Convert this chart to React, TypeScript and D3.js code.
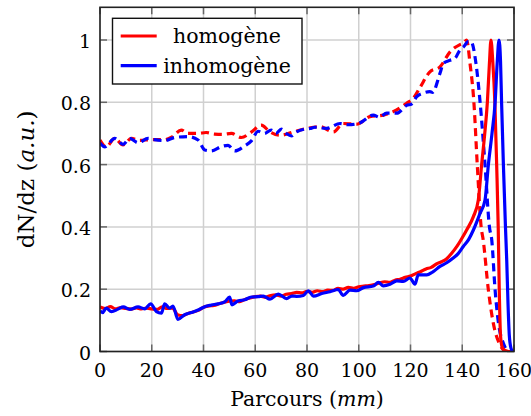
import React from "react";
import * as d3 from "d3";

// ---- data ----
const xTicks = [0, 20, 40, 60, 80, 100, 120, 140, 160];
const yTicks = [0, 0.2, 0.4, 0.6, 0.8, 1];
const yTickLabels = ["0", "0.2", "0.4", "0.6", "0.8", "1"];
const legendLabels = ["homogène", "inhomogène"];

// homogène, solid
const homSolidX = [0, 2, 4, 6, 8, 10, 12, 14, 16, 18, 20, 22, 24, 26, 28, 30, 32, 34, 36, 38, 40, 42, 44, 46, 48, 50, 52, 54, 56, 58, 60, 62, 64, 66, 68, 70, 72, 74, 76, 78, 80, 82, 84, 86, 88, 90, 92, 94, 96, 98, 100, 102, 104, 106, 108, 110, 112, 114, 116, 118, 120, 122, 124, 126, 128, 130, 132, 134, 136, 138, 140, 141.7, 144.3, 146.2, 147.5, 148.7, 149.7, 150.5, 151.1, 151.8, 152.6, 153.3, 153.9, 154.3, 154.8, 155.4, 156.5, 158, 160];
const homSolidY = [0.143, 0.138, 0.144, 0.137, 0.141, 0.138, 0.136, 0.14, 0.137, 0.139, 0.137, 0.135, 0.143, 0.138, 0.14, 0.118, 0.115, 0.122, 0.127, 0.132, 0.142, 0.146, 0.148, 0.153, 0.158, 0.162, 0.163, 0.16, 0.167, 0.172, 0.176, 0.178, 0.174, 0.18, 0.182, 0.178, 0.184, 0.186, 0.19, 0.188, 0.193, 0.19, 0.195, 0.192, 0.197, 0.196, 0.203, 0.2, 0.206, 0.203, 0.208, 0.21, 0.212, 0.215, 0.22, 0.224, 0.222, 0.229, 0.232, 0.238, 0.242, 0.25, 0.257, 0.265, 0.27, 0.281, 0.288, 0.298, 0.316, 0.338, 0.365, 0.39, 0.433, 0.486, 0.6, 0.7, 0.8, 0.925, 1.0, 0.93, 0.8, 0.6, 0.4, 0.2, 0.05, 0.015, 0.003, 0, 0];

// inhomogène, solid
const inhSolidX = [0, 1, 2.4, 4.4, 7, 9, 11.5, 14.7, 17.3, 19.6, 21.8, 23.7, 25, 26.9, 28.2, 30.1, 32.7, 35.3, 37.9, 40.5, 43, 45.6, 48.2, 50.1, 51, 53.3, 55.9, 58.5, 61.1, 63.1, 65.7, 68.9, 72.1, 74.1, 76, 78.6, 80.5, 82.5, 85.7, 88.9, 92.1, 94, 96.6, 99.2, 101.8, 105.6, 107.6, 109.5, 112.1, 114.7, 117.2, 119.8, 121.7, 123, 126.3, 128.5, 131.4, 134, 136.5, 138.5, 140.4, 142.5, 144.3, 146.9, 148.8, 150.1, 151.5, 152.7, 153.5, 154.2, 154.8, 155.2, 155.9, 156.7, 157.2, 157.7, 158.2, 158.8, 159.4, 160];
const inhSolidY = [0.13, 0.125, 0.139, 0.128, 0.136, 0.143, 0.135, 0.143, 0.137, 0.153, 0.128, 0.123, 0.153, 0.139, 0.146, 0.103, 0.118, 0.125, 0.133, 0.144, 0.149, 0.153, 0.159, 0.175, 0.15, 0.162, 0.166, 0.175, 0.176, 0.178, 0.168, 0.184, 0.17, 0.178, 0.177, 0.18, 0.195, 0.178, 0.186, 0.192, 0.199, 0.18, 0.197, 0.195, 0.205, 0.21, 0.222, 0.211, 0.216, 0.227, 0.225, 0.236, 0.216, 0.246, 0.246, 0.255, 0.273, 0.285, 0.3, 0.315, 0.337, 0.36, 0.39, 0.444, 0.486, 0.6, 0.7, 0.8, 0.925, 1.0, 0.93, 0.8, 0.6, 0.4, 0.29, 0.15, 0.05, 0.012, 0.002, 0];

// homogène, dashed
const homDashX = [0, 2.4, 5.7, 8.9, 12.1, 15, 19.8, 25, 28, 31.4, 34, 37.9, 41, 44.3, 47.5, 50.8, 54.6, 58.6, 62.3, 65.7, 69.6, 74.7, 79.9, 85, 90.2, 94, 99.2, 104.3, 109.5, 113.3, 118.5, 121.1, 123.7, 127.5, 131.4, 135.3, 137, 139.1, 140.5, 141.7, 143, 144.5, 145.8, 147.3, 148.1, 150.1, 152, 154.3, 155.9, 157];
const homDashY = [0.679, 0.657, 0.684, 0.663, 0.684, 0.678, 0.68, 0.68, 0.69, 0.711, 0.7, 0.7, 0.703, 0.698, 0.697, 0.7, 0.687, 0.705, 0.727, 0.705, 0.694, 0.705, 0.716, 0.722, 0.705, 0.732, 0.73, 0.754, 0.759, 0.77, 0.797, 0.813, 0.848, 0.898, 0.914, 0.962, 0.975, 0.985, 0.99, 1.0, 0.925, 0.8, 0.6, 0.4, 0.358, 0.197, 0.091, 0.026, 0.005, 0];

// inhomogène, dashed
const inhDashX = [0, 1.8, 5.7, 8.9, 11.5, 14.7, 18.6, 21, 25, 28.9, 34, 37.9, 40.5, 43, 46.9, 49.5, 52.1, 55.9, 58.6, 61.1, 63.5, 66.2, 68, 70.1, 72, 74, 76, 79.1, 81.2, 83, 87.6, 92.8, 96, 100.5, 105.6, 108, 110.8, 114.7, 118.5, 120.5, 122.4, 125, 127.5, 128.5, 131.4, 132.7, 135.3, 137.2, 139.1, 140.5, 142.3, 143.4, 145.3, 146.9, 148.8, 150.5, 151.4, 152.7, 154, 155.9, 157.2, 158];
const inhDashY = [0.669, 0.657, 0.684, 0.665, 0.684, 0.67, 0.684, 0.68, 0.677, 0.687, 0.69, 0.679, 0.647, 0.644, 0.658, 0.662, 0.644, 0.66, 0.677, 0.707, 0.7, 0.711, 0.7, 0.714, 0.7, 0.692, 0.705, 0.714, 0.716, 0.72, 0.716, 0.732, 0.728, 0.734, 0.759, 0.752, 0.765, 0.765, 0.79, 0.795, 0.818, 0.83, 0.834, 0.832, 0.893, 0.925, 0.935, 0.941, 0.968, 0.978, 0.995, 0.995, 0.925, 0.8, 0.6, 0.4, 0.358, 0.197, 0.091, 0.026, 0.005, 0];

const RED = "#ff0000";
const BLUE = "#0000ff";
const FONT = '"DejaVu Serif", "DejaVu Sans", serif';
const txt = { fontFamily: FONT };

export default function App() {
  const W = 531, H = 416;
  const left = 100, right = 514, top = 7.3, bottom = 351.5;
  const x = d3.scaleLinear().domain([0, 160]).range([left, right]);
  const y = d3.scaleLinear().domain([0, 1.105]).range([bottom, top]);

  const mk = (xs: number[], ys: number[]) =>
    d3
      .line<number>()
      .x((_, i) => x(xs[i]))
      .y((_, i) => y(ys[i]))
      .curve(d3.curveMonotoneX)(ys) as string;

  const series = [
    { d: mk(homDashX, homDashY), c: RED, dash: "8 5" },
    { d: mk(inhDashX, inhDashY), c: BLUE, dash: "8 5" },
    { d: mk(homSolidX, homSolidY), c: RED, dash: undefined },
    { d: mk(inhSolidX, inhSolidY), c: BLUE, dash: undefined },
  ];

  const gridColor = "#d0d0d0";
  const tickColor = "#666";

  return (
    <svg
      width={W}
      height={H}
      style={{ position: "absolute", left: 0, top: 0, background: "#fff", fontFamily: FONT }}
    >
      <defs>
        <clipPath id="plotclip">
          <rect x={left} y={top} width={right - left} height={bottom - top} />
        </clipPath>
      </defs>
      {/* grid */}
      {xTicks.map((t) => (
        <line key={"gx" + t} x1={x(t)} x2={x(t)} y1={top} y2={bottom} stroke={gridColor} strokeWidth={1.5} />
      ))}
      {yTicks.map((t) => (
        <line key={"gy" + t} x1={left} x2={right} y1={y(t)} y2={y(t)} stroke={gridColor} strokeWidth={1.5} />
      ))}
      {/* ticks */}
      {xTicks.map((t) => (
        <g key={"tx" + t}>
          <line x1={x(t)} x2={x(t)} y1={bottom} y2={bottom - 7} stroke={tickColor} strokeWidth={1.5} />
          <line x1={x(t)} x2={x(t)} y1={top} y2={top + 7} stroke={tickColor} strokeWidth={1.5} />
        </g>
      ))}
      {yTicks.map((t) => (
        <g key={"ty" + t}>
          <line x1={left} x2={left + 7} y1={y(t)} y2={y(t)} stroke={tickColor} strokeWidth={1.5} />
          <line x1={right} x2={right - 7} y1={y(t)} y2={y(t)} stroke={tickColor} strokeWidth={1.5} />
        </g>
      ))}
      {/* curves */}
      <g clipPath="url(#plotclip)">
        {series.map((s, i) => (
          <path
            key={i}
            d={s.d}
            fill="none"
            stroke={s.c}
            strokeWidth={3.2}
            strokeDasharray={s.dash}
            strokeLinejoin="round"
          />
        ))}
      </g>
      {/* frame */}
      <rect x={left} y={top} width={right - left} height={bottom - top} fill="none" stroke="#222" strokeWidth={1.6} />
      {/* tick labels */}
      {xTicks.map((t) => (
        <text key={"lx" + t} x={x(t)} y={377} textAnchor="middle" fontSize={19} fill="#000" style={txt}>
          {t}
        </text>
      ))}
      {yTicks.map((t, i) => (
        <text key={"ly" + t} x={91} y={y(t) + 8} textAnchor="end" fontSize={19} fill="#000" style={txt}>
          {yTickLabels[i]}
        </text>
      ))}
      {/* axis labels */}
      <text x={(left + right) / 2} y={406} textAnchor="middle" fontSize={20.5} fill="#000" style={txt}>
        Parcours (<tspan fontStyle="italic">mm</tspan>)
      </text>
      <text
        transform={`translate(34, ${(top + bottom) / 2}) rotate(-90)`}
        textAnchor="middle"
        fontSize={23}
        fill="#000"
        style={txt}
      >
        dN/dz (<tspan fontStyle="italic">a.u.</tspan>)
      </text>
      {/* legend */}
      <rect x={112.5} y={18.3} width={189.5} height={65.7} fill="#fff" stroke="#111" strokeWidth={1.4} />
      <line x1={120.7} x2={156.7} y1={36} y2={36} stroke={RED} strokeWidth={3.2} />
      <line x1={120.7} x2={156.7} y1={65.7} y2={65.7} stroke={BLUE} strokeWidth={3.2} />
      <text x={227} y={43.3} textAnchor="middle" fontSize={20.5} fill="#000" style={txt}>
        {legendLabels[0]}
      </text>
      <text x={227} y={73.3} textAnchor="middle" fontSize={20.5} fill="#000" style={txt}>
        {legendLabels[1]}
      </text>
    </svg>
  );
}
